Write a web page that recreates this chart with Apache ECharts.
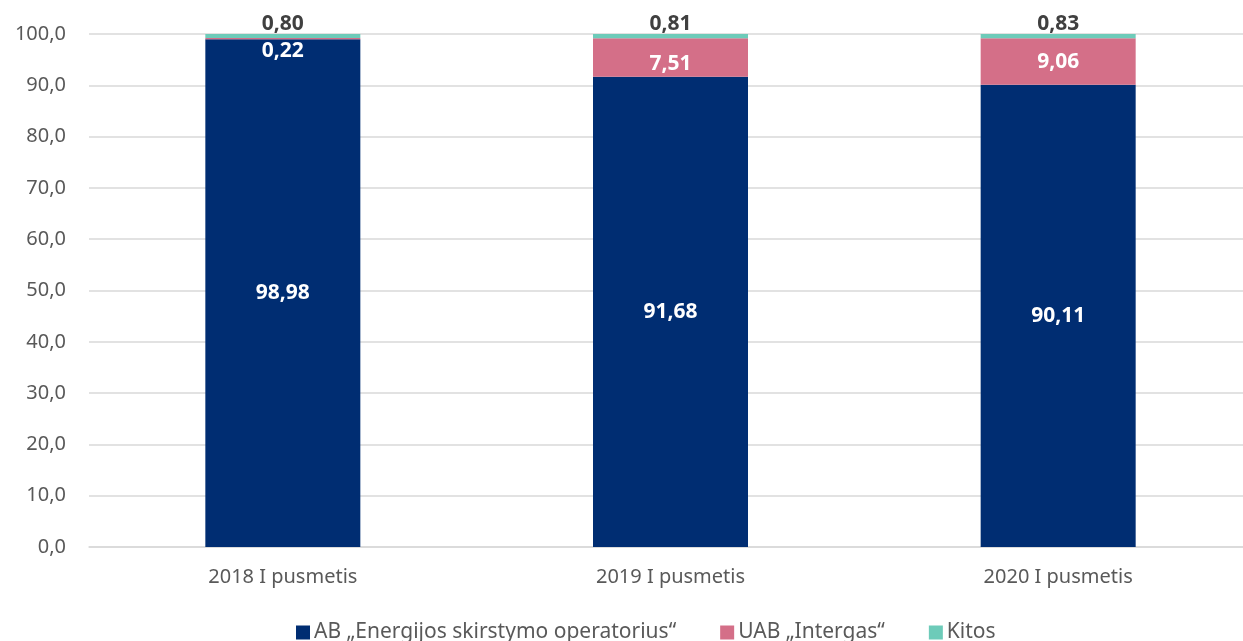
<!DOCTYPE html>
<html>
<head>
<meta charset="utf-8">
<script src="https://cdn.jsdelivr.net/npm/echarts@6/dist/echarts.min.js"></script>
<style>html,body{margin:0;padding:0;background:#fff;overflow:hidden;width:1243px;height:641px;}#c{width:1252px;height:641px;}</style>
</head>
<body>
<div id="c"></div>
<script>
var categories = ['2018 I pusmetis', '2019 I pusmetis', '2020 I pusmetis'];
var seriesNames = ['AB \u201eEnergijos skirstymo operatorius\u201c', 'UAB \u201eIntergas\u201c', 'Kitos'];
var esoValues = [98.98, 91.68, 90.11];
var intergasValues = [0.22, 7.51, 9.06];
var kitosValues = [0.80, 0.81, 0.83];

var FONT = '"Noto Sans", "Open Sans", sans-serif';
function fmt2(p){ return p.value.toFixed(2).replace('.', ','); }
var pinkLabelTweaks = [
  { position: 'insideTop', distance: 2 },
  { position: 'inside', offset: [0, 7] },
  { position: 'inside', offset: [0, 1] }
];

var chart = echarts.init(document.getElementById('c'));
chart.setOption({
  animation: false,
  textStyle: { fontFamily: FONT },
  grid: { left: 89, top: 34, right: 0, height: 513, containLabel: false },
  legend: {
    bottom: -7,
    left: 291,
    itemWidth: 14, itemHeight: 14, itemGap: 44,
    icon: 'rect',
    textStyle: { fontSize: 21, color: '#595959', fontFamily: FONT, padding: [0, 0, 0, -1] },
    data: seriesNames
  },
  xAxis: {
    type: 'category',
    data: categories,
    axisLine: { lineStyle: { color: '#d9d9d9', width: 1.5 } },
    axisTick: { show: false },
    axisLabel: { fontSize: 20, color: '#595959', margin: 20, fontFamily: FONT }
  },
  yAxis: {
    type: 'value',
    min: 0, max: 100, interval: 10,
    axisLine: { show: false },
    axisTick: { show: false },
    splitLine: { lineStyle: { color: '#d9d9d9', width: 1.5 } },
    axisLabel: {
      fontSize: 20, color: '#595959', margin: 23, fontFamily: FONT,
      formatter: function(v){ return v.toFixed(1).replace('.', ','); }
    }
  },
  series: [
    {
      name: seriesNames[0], type: 'bar', stack: 's', barWidth: 155,
      itemStyle: { color: '#002D72' },
      label: { show: true, position: 'inside', color: '#ffffff', fontWeight: 'bold', fontSize: 21, formatter: fmt2, fontFamily: FONT },
      data: esoValues
    },
    {
      name: seriesNames[1], type: 'bar', stack: 's', barWidth: 155,
      itemStyle: { color: '#D46F88' },
      label: { show: true, position: 'inside', color: '#ffffff', fontWeight: 'bold', fontSize: 21, formatter: fmt2, fontFamily: FONT },
      data: intergasValues.map(function(v, i){
        return { value: v, label: pinkLabelTweaks[i] };
      })
    },
    {
      name: seriesNames[2], type: 'bar', stack: 's', barWidth: 155,
      itemStyle: { color: '#6DCBB9' },
      label: { show: true, position: 'top', distance: 0, offset: [0, 1], color: '#404040', fontWeight: 'bold', fontSize: 21, formatter: fmt2, fontFamily: FONT },
      data: kitosValues
    }
  ]
});
</script>
</body>
</html>
